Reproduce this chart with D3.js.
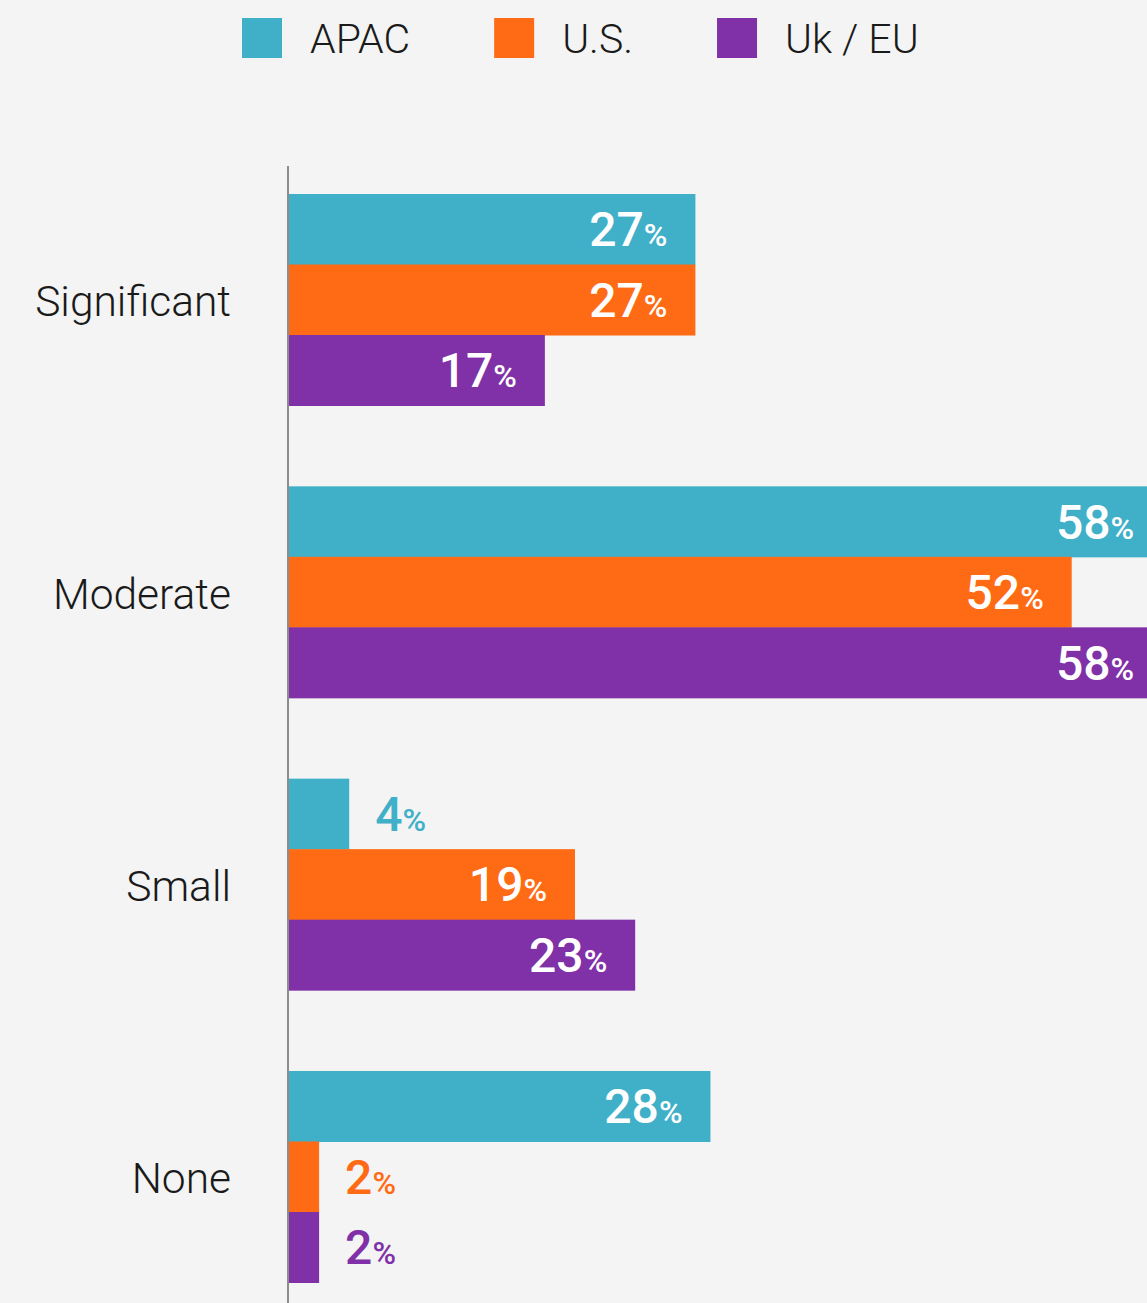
<!DOCTYPE html>
<html>
<head>
<meta charset="utf-8">
<script src="https://cdn.jsdelivr.net/npm/d3@7"></script>
<style>
  html, body { margin: 0; padding: 0; background: #f3f4f3; overflow: hidden; }
  svg { display: block; }
</style>
</head>
<body>
<script>
const categories = ["Significant", "Moderate", "Small", "None"];
const seriesNames = ["APAC", "U.S.", "Uk / EU"];
const seriesColors = ["#40b0c9", "#ff6b14", "#8031a7"];
const apacValues = [27, 58, 4, 28];
const usValues = [27, 52, 19, 2];
const ukEuValues = [17, 58, 23, 2];
const allValues = [apacValues, usValues, ukEuValues];

const W = 1147, H = 1303;
const svg = d3.select("body").append("svg").attr("width", W).attr("height", H);
svg.append("rect").attr("width", W).attr("height", H).attr("fill", "#f3f4f3");

const x0 = 289;
const x = d3.scaleLinear().domain([0, 58]).range([x0, 1162]);
const y = d3.scaleBand().domain(categories).range([194, 1282.5]).paddingInner(0.2765).paddingOuter(0);
const ySub = d3.scaleBand().domain(seriesNames).range([0, y.bandwidth()]).padding(0);

const data = [];
categories.forEach((c, ci) => {
  seriesNames.forEach((s, si) => {
    data.push({ cat: c, series: s, si, value: allValues[si][ci] });
  });
});

// bars
svg.append("g").selectAll("rect").data(data).join("rect")
  .attr("x", x0)
  .attr("y", d => y(d.cat) + ySub(d.series))
  .attr("width", d => x(d.value) - x0)
  .attr("height", ySub.bandwidth() + 0.5)
  .attr("fill", d => seriesColors[d.si]);

// value labels
const lab = svg.append("g").selectAll("text").data(data).join("text")
  .attr("y", d => y(d.cat) + ySub(d.series) + ySub.bandwidth() / 2 + 17)
  .attr("x", d => d.value < 10 ? x(d.value) + 26 : x(d.value) - 28)
  .attr("text-anchor", d => d.value < 10 ? "start" : "end")
  .attr("fill", d => d.value < 10 ? seriesColors[d.si] : "#ffffff")
  .style("font-family", "Roboto, 'Noto Sans', sans-serif")
  .style("font-weight", 500);
lab.append("tspan").attr("font-size", 48).text(d => d.value);
lab.append("tspan").attr("font-size", 32).text("%");

// axis line
svg.append("line")
  .attr("x1", 288).attr("x2", 288)
  .attr("y1", 166).attr("y2", H)
  .attr("stroke", "#8c8c8c").attr("stroke-width", 2);

// category labels
svg.append("g").selectAll("text").data(categories).join("text")
  .attr("x", 231)
  .attr("y", d => y(d) + y.bandwidth() / 2 + 16.5)
  .attr("text-anchor", "end")
  .attr("fill", "#1a1a1a")
  .style("font-family", "Roboto, 'Noto Sans', sans-serif")
  .style("font-weight", 300)
  .attr("font-size", 42.5)
  .text(d => d);

// legend
const legend = svg.append("g");
let lx = 242;
seriesNames.forEach((s, i) => {
  legend.append("rect").attr("x", lx).attr("y", 18).attr("width", 40).attr("height", 40).attr("fill", seriesColors[i]);
  const t = legend.append("text")
    .attr("x", lx + 68).attr("y", 52.5)
    .attr("fill", "#1a1a1a")
    .style("font-family", "Roboto, 'Noto Sans', sans-serif")
    .style("font-weight", 300)
    .attr("font-size", 41)
    .text(s);
  lx = lx + 68 + t.node().getComputedTextLength() + 84;
});
</script>
</body>
</html>
